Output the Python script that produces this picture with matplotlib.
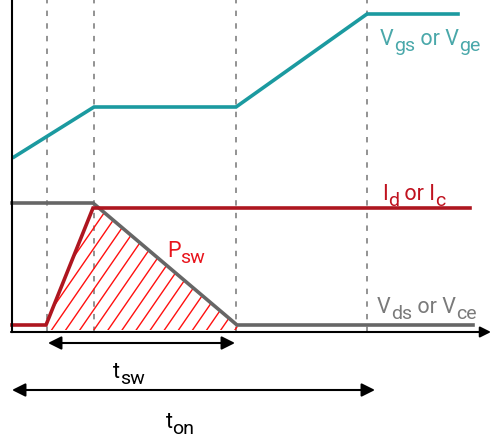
import matplotlib.pyplot as plt
import numpy as np
from matplotlib.patches import Polygon
from matplotlib.transforms import offset_copy

plt.rcParams['font.family'] = ['Roboto', 'DejaVu Sans']

# switching instants (x) and waveform corners (x, y)
t_marks = [35, 82, 224, 355]

vgs_x = [2, 82, 224, 355, 446]
vgs_y = [175, 225, 225, 318, 318]

id_x = [0, 34, 81, 458]
id_y = [7, 7, 124, 124]

vds_x = [0, 81, 225, 461]
vds_y = [129, 129, 7, 7]

# switching loss area
psw_x = [34, 34, 81, 85, 225, 227]
psw_y = [2, 7, 124, 126, 7, 2]

# time spans
tsw_span = (36, 223)
ton_span = (0, 363)

teal = '#1b9aa0'
dark_red = '#ae1620'
gray = '#666666'

fig = plt.figure(figsize=(4.91, 4.39), dpi=100)
ax = fig.add_axes([0, 0, 1, 1])
ax.set_xlim(-12, 479)
ax.set_ylim(-106, 333)
ax.axis('off')
renderer = fig.canvas.get_renderer()


def label(x, y, parts, color, fs=15.5, center=False):
    # parts: list of (text, is_subscript); subscripts are lowered, nearly full size
    texts = []
    dx = 0.0
    for s, sub in parts:
        tr = offset_copy(ax.transData, fig=fig, x=dx, y=-4.5 if sub else 0, units='points')
        t = ax.text(x, y, s, color=color, fontsize=fs - 1.5 if sub else fs,
                    transform=tr, va='baseline', ha='left')
        w = t.get_window_extent(renderer).width * 72 / fig.dpi
        dx += w
        texts.append(t)
    if center:
        for t in texts:
            t.set_transform(offset_copy(t.get_transform(), fig=fig, x=-dx / 2, y=0, units='points'))


for t in t_marks:
    ax.plot([t, t], [0, 333], color='#8a8a8a', lw=1.3, ls=(0, (3, 4)), zorder=1)

# hatched loss area
patch = Polygon(np.column_stack([psw_x, psw_y]), closed=True, fill=False, lw=0)
ax.add_patch(patch)
for x0 in np.arange(10, 240, 14.1):
    ln, = ax.plot([x0, x0 + 200 / 1.45], [0, 200], color='#ff1010', lw=1.0, zorder=2)
    ln.set_clip_path(patch)

ax.plot(vgs_x, vgs_y, color=teal, lw=2.6, zorder=3, solid_joinstyle='miter')
ax.plot(vds_x, vds_y, color=gray, lw=2.6, zorder=3, solid_joinstyle='miter')
ax.plot(id_x, id_y, color=dark_red, lw=2.6, zorder=4, solid_joinstyle='miter')

# axes
ax.plot([0, 0], [0, 333], color='black', lw=1.5, zorder=5)
ax.annotate('', xy=(479, 0), xytext=(-1, 0),
            arrowprops=dict(arrowstyle='-|>', color='black', lw=1.5,
                            mutation_scale=16, shrinkA=0, shrinkB=0), zorder=5)

for (a, b), y in [(tsw_span, -11), (ton_span, -58)]:
    ax.annotate('', xy=(b, y), xytext=(a, y),
                arrowprops=dict(arrowstyle='<|-|>', color='black', lw=1.5,
                                mutation_scale=20, shrinkA=0, shrinkB=0))

label(368, 288, [('V', 0), ('gs', 1), (' or V', 0), ('ge', 1)], '#4aa8aa')
label(370, 133, [('I', 0), ('d', 1), (' or I', 0), ('c', 1)], '#c0121f')
label(365, 20, [('V', 0), ('ds', 1), (' or V', 0), ('ce', 1)], '#7a7a7a')
label(155, 76, [('P', 0), ('sw', 1)], '#e8141c')
label(117, -45, [('t', 0), ('sw', 1)], 'black', center=True)
label(168, -95, [('t', 0), ('on', 1)], 'black', center=True)

fig.savefig('out.png', dpi=100)
